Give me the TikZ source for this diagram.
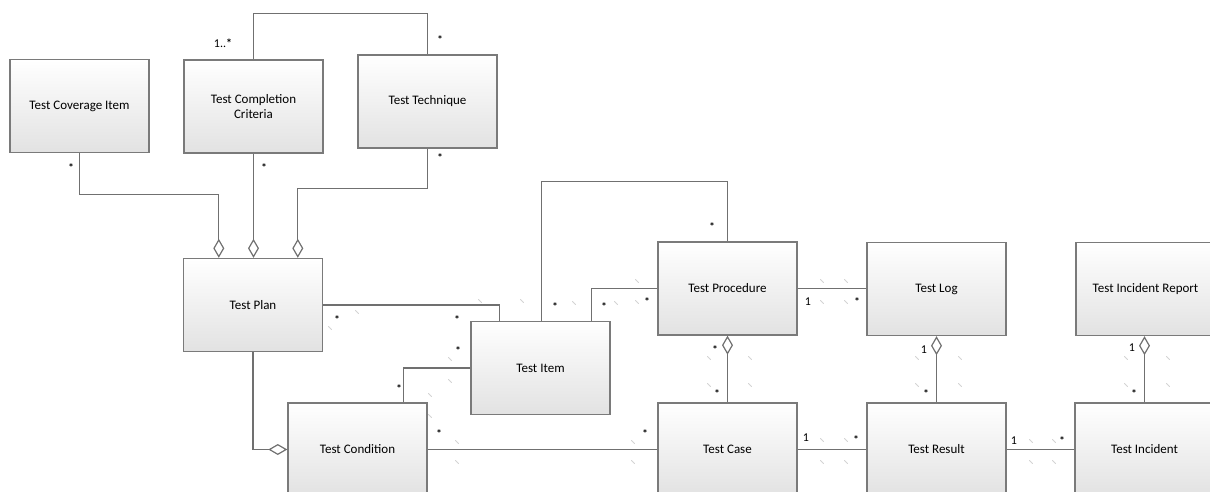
\documentclass[tikz,border=0pt]{standalone}
\usepackage{fontspec}
\setmainfont{Carlito}
\usetikzlibrary{arrows.meta,calc}
\definecolor{edgegray}{RGB}{112,112,112}
\definecolor{boxline}{RGB}{122,122,122}
\definecolor{boxshade}{RGB}{226,226,226}
\definecolor{ghost}{RGB}{212,212,212}
\begin{document}
\begin{tikzpicture}[x=1pt,y=-1pt,
  cls/.style={draw=boxline,line width=1.4pt,top color=white,bottom color=boxshade,
    minimum width=139pt,minimum height=93pt,inner sep=2pt,align=center,
    font=\fontsize{13}{15.5}\selectfont},
  link/.style={draw=edgegray,line width=1.2pt},
  agg/.style={link,-{Diamond[open,length=19pt,width=11pt,line width=1.2pt]}},
  mult/.style={inner sep=0pt,font=\fontsize{12}{14}\selectfont},
  many/.style={inner sep=0pt,font=\fontsize{11}{13}\selectfont\bfseries},
  ghostmark/.style={draw=ghost,line width=0.9pt,line cap=round}]
\clip (0,0) rectangle (1210,492);

% classes
\node[cls] (cov)  at (79.5,106)   {Test Coverage Item};
\node[cls] (tcc)  at (253.5,106.5){Test Completion\\Criteria};
\node[cls] (tech) at (427.5,101.5){Test Technique};
\node[cls] (plan) at (253,305)    {Test Plan};
\node[cls] (item) at (540.5,368)  {Test Item};
\node[cls] (cond) at (357.5,449.5){Test Condition};
\node[cls] (proc) at (727.5,288.5){Test Procedure};
\node[cls] (log)  at (936.5,289)  {Test Log};
\node[cls] (rep)  at (1145.5,289) {Test Incident Report};
\node[cls] (case) at (727.5,449.5){Test Case};
\node[cls] (res)  at (936.5,449.5){Test Result};
\node[cls] (inc)  at (1144.5,449.5){Test Incident};

% attachment points on box edges
\coordinate (planA) at ($(plan.north west)+(36,0)$);
\coordinate (planB) at ($(plan.north west)+(115,0)$);
\coordinate (itemA) at ($(item.north west)+(29,0)$);
\coordinate (itemB) at ($(item.north west)+(71,0)$);
\coordinate (itemC) at ($(item.north west)+(121,0)$);
\coordinate (condA) at ($(cond.north west)+(116,0)$);

% aggregations into Test Plan
\draw[agg] (cov.south) -- ++(0,41) -| (planA);
\draw[agg] (tcc.south) -- (tcc.south |- plan.north);
\draw[agg] (tech.south) -- ++(0,40) -| (planB);
\draw[link] (tcc.north) -- ++(0,-46) -| (tech.north);

% associations around Test Item
\draw[link] (plan.east) -| (itemA);
\draw[agg] (plan.south) |- (cond.west);
\draw[link] (item.west) -| (condA);
\draw[link] (cond.east) -- (case.west);
\draw[link] (itemB) -- ++(0,-139) -| (proc.north);
\draw[link] (itemC) |- (proc.west);

% right-hand part
\draw[link] (proc.east) -- (proc.east -| log.west);
\draw[agg] (case.north) -- (proc.south);
\draw[agg] (res.north) -- (log.south);
\draw[agg] (inc.north) -- (inc.north |- rep.south);
\draw[link] (case.east) -- (res.west);
\draw[link] (res.east) -- (inc.west);

% multiplicities
\node[many] (m1)  at (71,168)   {*};
\node[many] (m2)  at (264,168)  {*};
\node[many] (m3)  at (440,158)  {*};
\node[mult] (m4)  at (223,43)   {1..\textbf{*}};
\node[many] (m5)  at (440,40)   {*};
\node[many] (m6)  at (337,320)  {*};
\node[many] (m7)  at (457,320)  {*};
\node[many] (m8)  at (458,351)  {*};
\node[many] (m9)  at (399,389)  {*};
\node[many] (m10) at (439,434)  {*};
\node[many] (m11) at (645,434)  {*};
\node[many] (m12) at (555,307)  {*};
\node[many] (m13) at (712,227)  {*};
\node[many] (m14) at (604,307)  {*};
\node[many] (m15) at (647,302)  {*};
\node[mult] (m16) at (808,302)  {1};
\node[many] (m17) at (857,302)  {*};
\node[many] (m18) at (715,350)  {*};
\node[many] (m19) at (717,394)  {*};
\node[mult] (m20) at (924,350)  {1};
\node[many] (m21) at (926,394)  {*};
\node[mult] (m22) at (1132,348) {1};
\node[many] (m23) at (1134,394) {*};
\node[mult] (m24) at (806,438)  {1};
\node[many] (m25) at (856,440)  {*};
\node[mult] (m26) at (1014,441) {1};
\node[many] (m27) at (1062,441) {*};

% empty role-name handles
\foreach \p in {(480,301),(522,301),(574,303),(616,303),(637,281),(637,302),
  (357,312),(330,328),(450,359),(450,381),(430,395),(430,416),(457,442),(457,462),
  (633,442),(633,462),(822,281),(846,281),(822,302),(846,302),(709,358),(750,358),
  (709,385),(750,385),(917,358),(960,358),(917,385),(960,385),(1126,358),(1168,358),
  (1126,385),(1168,385),(822,440),(846,440),(822,462),(846,462),(1031,441),(1054,441),
  (1031,462),(1054,462)}
  \draw[ghostmark] \p ++(-1.5,-1.5) -- ++(3,3);
\end{tikzpicture}
\end{document}
